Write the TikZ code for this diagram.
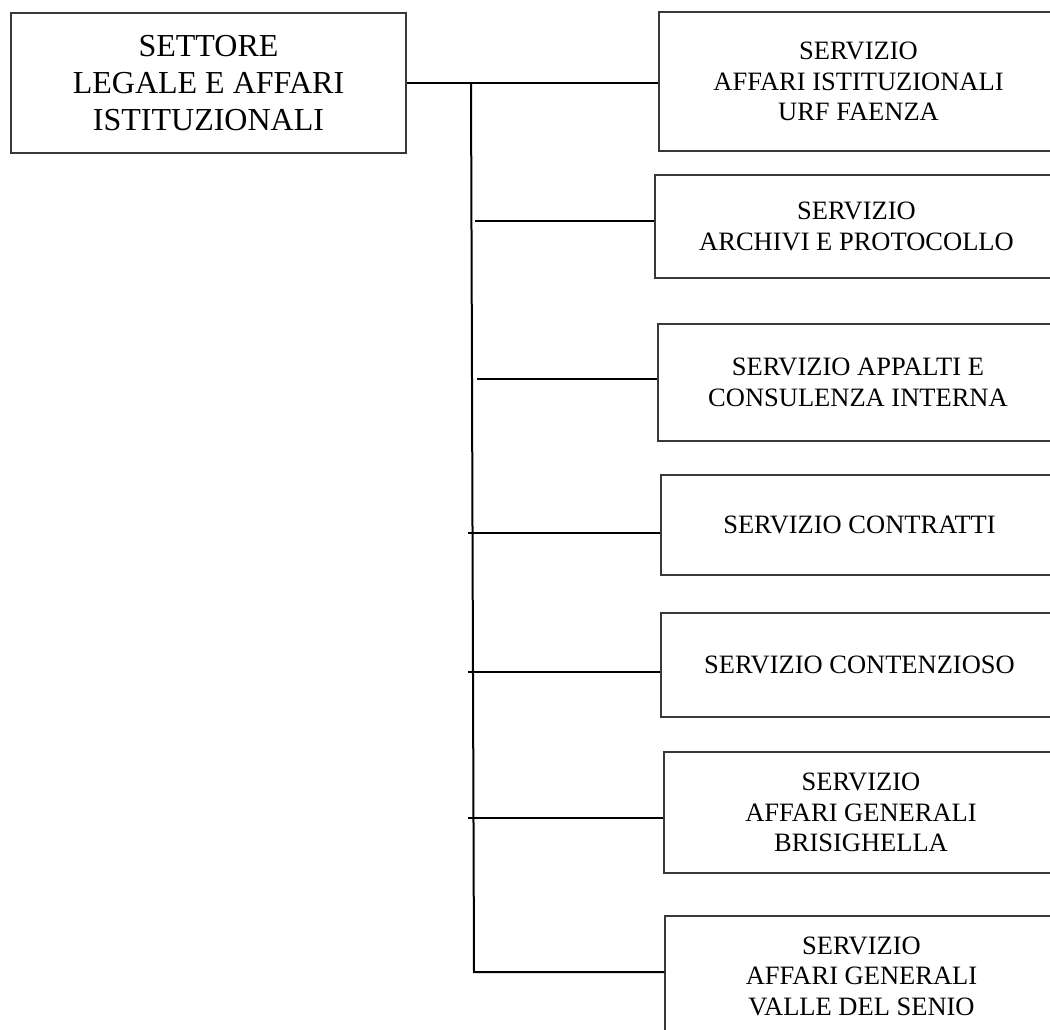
\documentclass[tikz,border=0pt]{standalone}
\usepackage{fontspec}
\setmainfont{Liberation Serif}
\begin{document}
\begin{tikzpicture}[x=1pt,y=-1pt,
  boxline/.style={draw=black!78, line width=1.3pt},
  mainbox/.style={boxline, inner sep=0pt, align=center,
    font=\fontsize{32}{37}\selectfont, minimum width=395pt, minimum height=140pt},
  servbox/.style={boxline, inner sep=0pt, align=center,
    font=\fontsize{26.5}{30.5}\selectfont},
  conn/.style={draw=black, line width=2pt}]
\useasboundingbox (0,0) rectangle (1050,1030);
\fill[white] (0,0) rectangle (1050,1030);

\node[mainbox] (main) at (208.5,83) {SETTORE\\LEGALE E AFFARI\\ISTITUZIONALI};

\node[servbox, minimum width=399pt, minimum height=139pt] (b1) at (858.5,81.5)
  {SERVIZIO\\AFFARI ISTITUZIONALI\\URF FAENZA};
\node[servbox, minimum width=403pt, minimum height=103pt] (b2) at (856.5,226.5)
  {SERVIZIO\\ARCHIVI E PROTOCOLLO};
\node[servbox, minimum width=400pt, minimum height=117pt] (b3) at (858,382.5)
  {SERVIZIO APPALTI E\\CONSULENZA INTERNA};
\node[servbox, minimum width=397pt, minimum height=100pt] (b4) at (859.5,525)
  {SERVIZIO CONTRATTI};
\node[servbox, minimum width=397pt, minimum height=104pt] (b5) at (859.5,665)
  {SERVIZIO CONTENZIOSO};
\node[servbox, minimum width=394pt, minimum height=121pt] (b6) at (861,812.5)
  {SERVIZIO\\AFFARI GENERALI\\BRISIGHELLA};
\node[servbox, minimum width=393pt, minimum height=120pt] (b7) at (861.5,976)
  {SERVIZIO\\AFFARI GENERALI\\VALLE DEL SENIO};

% spine
\coordinate (top) at (471,83);
\coordinate (bot) at (474,972);
\coordinate (s2) at (475,221);
\coordinate (s3) at (477,379);
\coordinate (s4) at (468,533);
\coordinate (s5) at (468,672);
\coordinate (s6) at (468,818);

\draw[conn] (main.east) -- (main.east -| b1.west);
\draw[conn] (top) -- (bot) -- (bot -| b7.west);
\draw[conn] (s2) -- (s2 -| b2.west);
\draw[conn] (s3) -- (s3 -| b3.west);
\draw[conn] (s4) -- (s4 -| b4.west);
\draw[conn] (s5) -- (s5 -| b5.west);
\draw[conn] (s6) -- (s6 -| b6.west);
\end{tikzpicture}
\end{document}
